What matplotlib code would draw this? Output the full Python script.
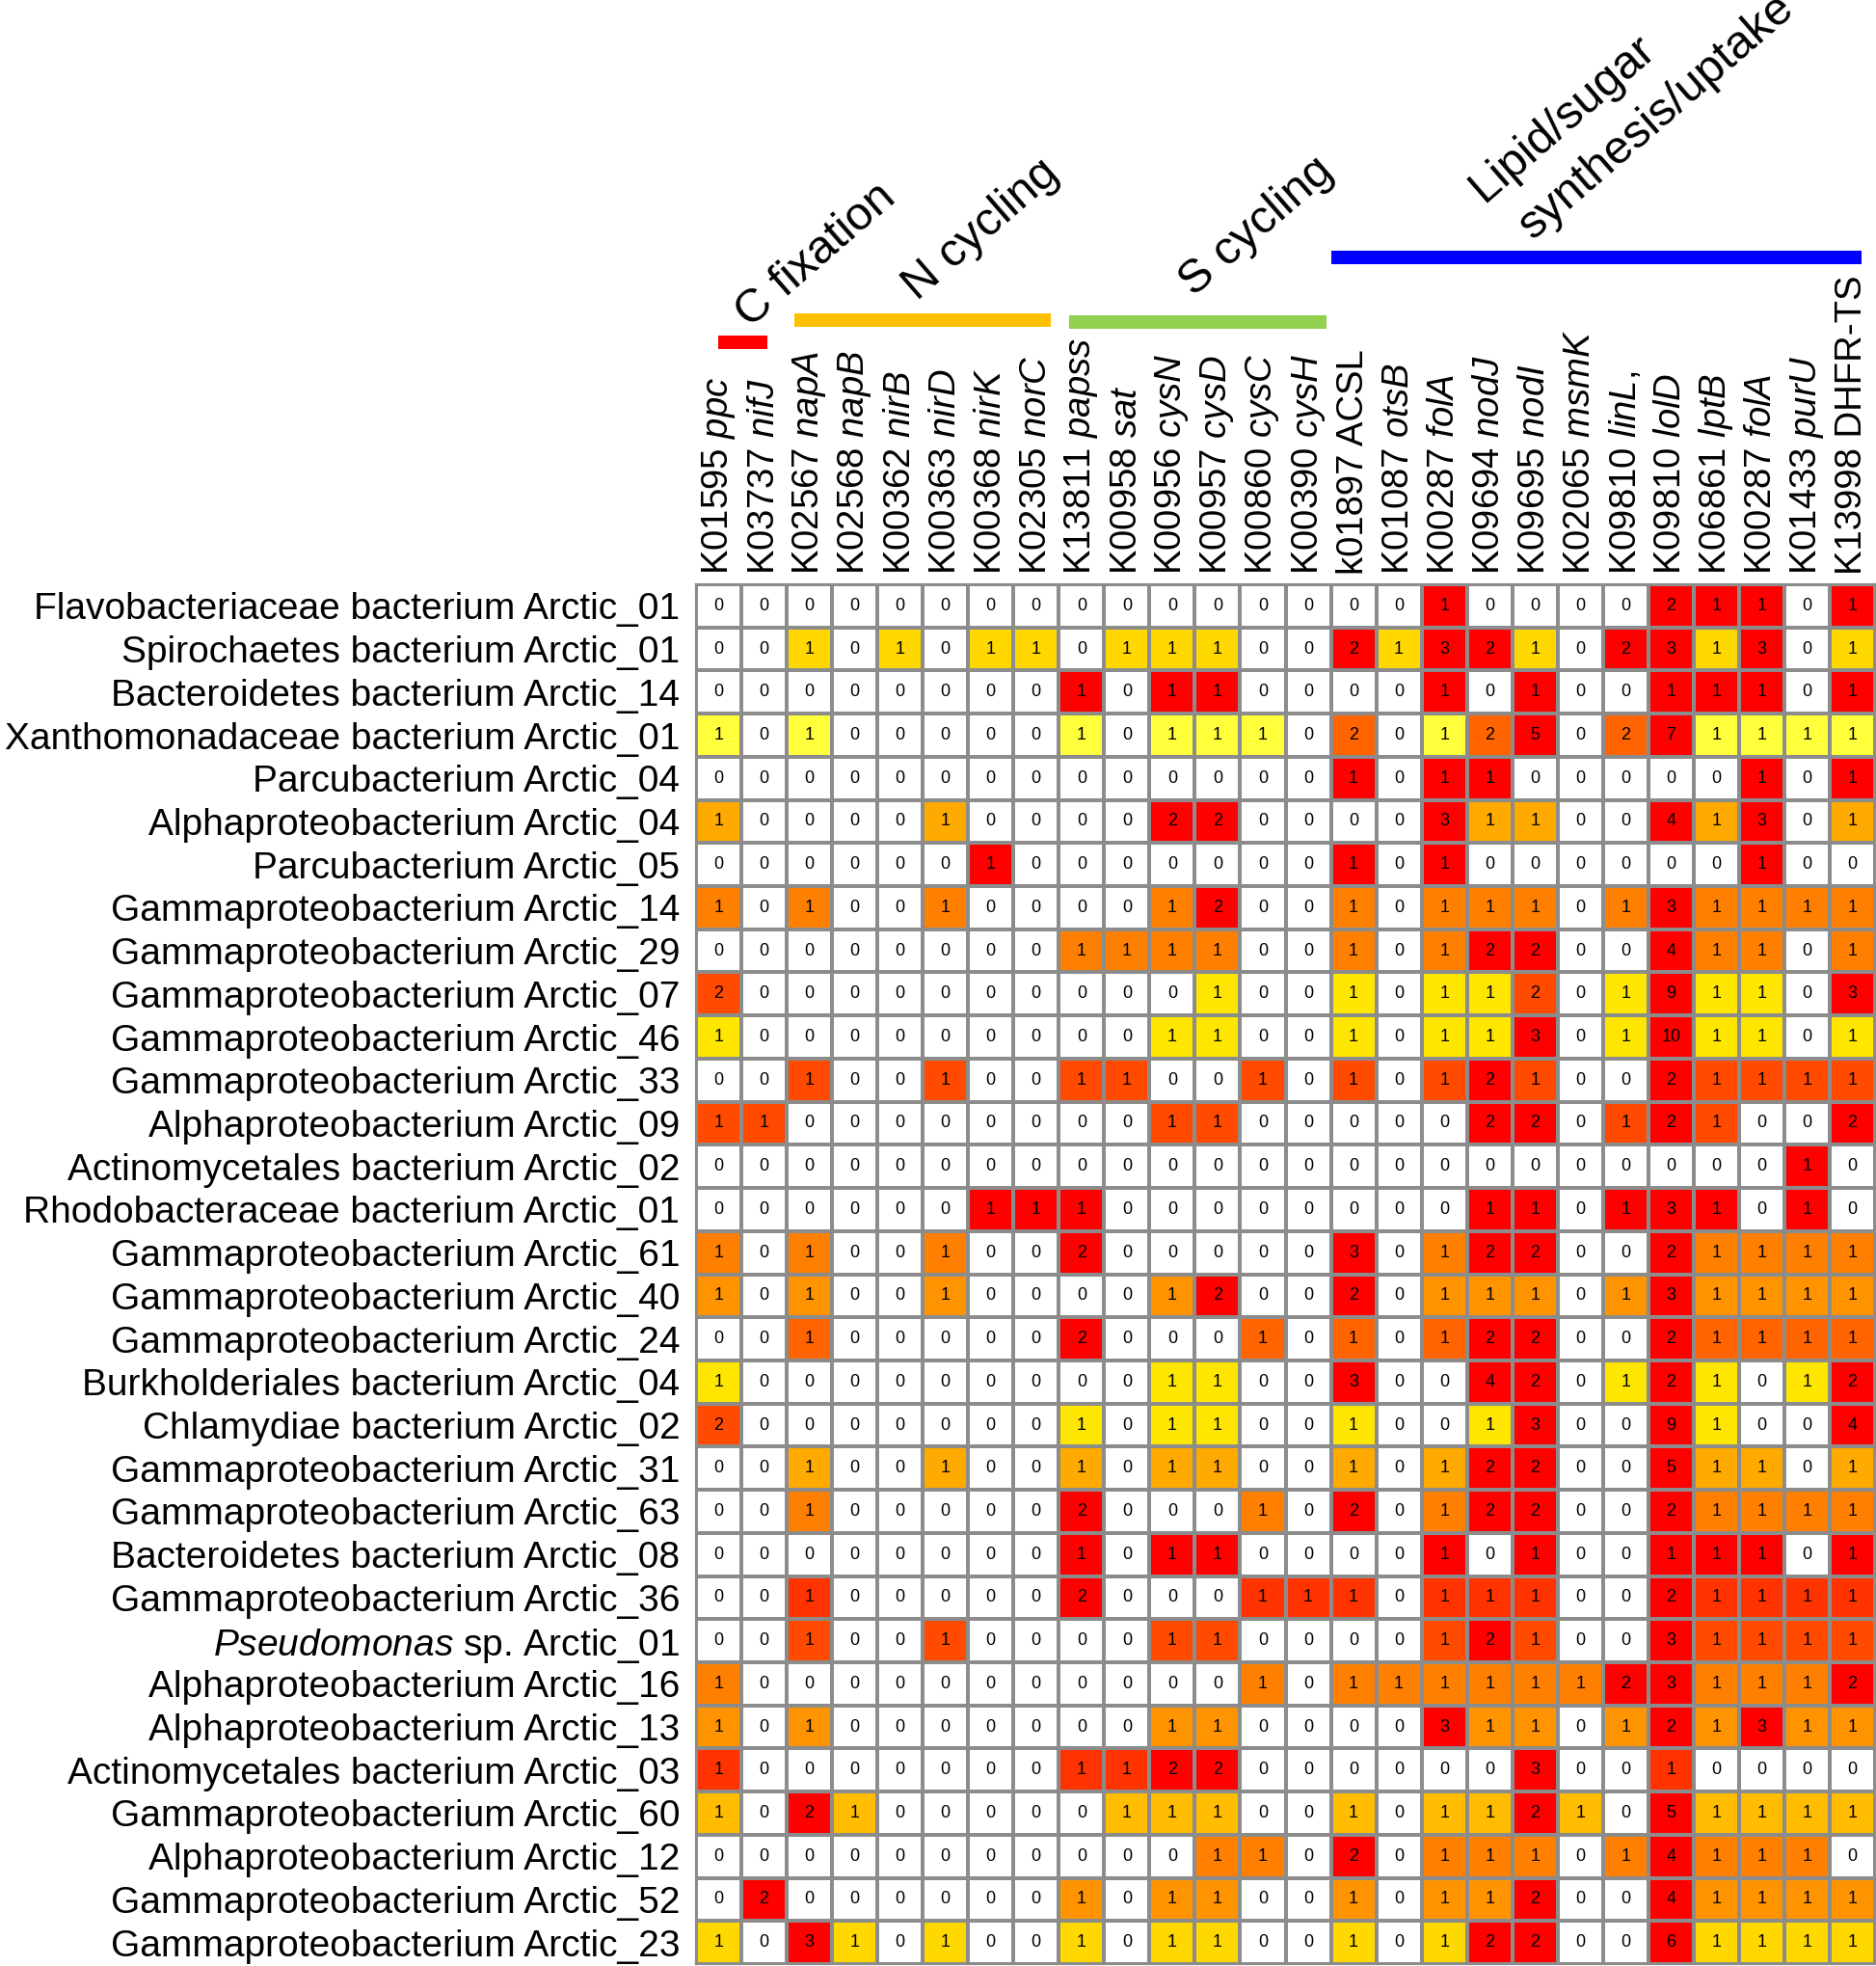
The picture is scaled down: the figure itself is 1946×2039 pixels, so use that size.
import numpy as np
import matplotlib
matplotlib.use('Agg')
import matplotlib.pyplot as plt
from matplotlib.colors import ListedColormap
from matplotlib.patches import Rectangle

plt.rcParams['font.family'] = ['Liberation Sans', 'DejaVu Sans']
plt.rcParams['mathtext.fontset'] = 'custom'
plt.rcParams['mathtext.rm'] = 'Liberation Sans'
plt.rcParams['mathtext.it'] = 'Liberation Sans:italic'

# ---------------- data ----------------
gene_ids = ["K01595", "K03737", "K02567", "K02568", "K00362", "K00363", "K00368", "K02305",
            "K13811", "K00958", "K00956", "K00957", "K00860", "K00390",
            "k01897", "K01087", "K00287", "K09694", "K09695", "K02065", "K09810", "K09810",
            "K06861", "K00287", "K01433", "K13998"]
gene_symbols = ["ppc", "nifJ", "napA", "napB", "nirB", "nirD", "nirK", "norC",
                "papss", "sat", "cysN", "cysD", "cysC", "cysH",
                "ACSL", "otsB", "folA", "nodJ", "nodI", "msmK", "linL,", "lolD",
                "lptB", "folA", "purU", "DHFR-TS"]
symbol_italic = [True] * 14 + [False] + [True] * 10 + [False]

genomes = [
    "Flavobacteriaceae bacterium Arctic_01",
    "Spirochaetes bacterium Arctic_01",
    "Bacteroidetes bacterium Arctic_14",
    "Xanthomonadaceae bacterium Arctic_01",
    "Parcubacterium Arctic_04",
    "Alphaproteobacterium Arctic_04",
    "Parcubacterium Arctic_05",
    "Gammaproteobacterium Arctic_14",
    "Gammaproteobacterium Arctic_29",
    "Gammaproteobacterium Arctic_07",
    "Gammaproteobacterium Arctic_46",
    "Gammaproteobacterium Arctic_33",
    "Alphaproteobacterium Arctic_09",
    "Actinomycetales bacterium Arctic_02",
    "Rhodobacteraceae bacterium Arctic_01",
    "Gammaproteobacterium Arctic_61",
    "Gammaproteobacterium Arctic_40",
    "Gammaproteobacterium Arctic_24",
    "Burkholderiales bacterium Arctic_04",
    "Chlamydiae bacterium Arctic_02",
    "Gammaproteobacterium Arctic_31",
    "Gammaproteobacterium Arctic_63",
    "Bacteroidetes bacterium Arctic_08",
    "Gammaproteobacterium Arctic_36",
    "$\\mathit{Pseudomonas}$ sp. Arctic_01",
    "Alphaproteobacterium Arctic_16",
    "Alphaproteobacterium Arctic_13",
    "Actinomycetales bacterium Arctic_03",
    "Gammaproteobacterium Arctic_60",
    "Alphaproteobacterium Arctic_12",
    "Gammaproteobacterium Arctic_52",
    "Gammaproteobacterium Arctic_23",
]

counts = [
    [0,0,0,0,0,0,0,0,0,0,0,0,0, 0,0,0,1,0,0,0,0,2,1,1,0,1],
    [0,0,1,0,1,0,1,1,0,1,1,1,0, 0,2,1,3,2,1,0,2,3,1,3,0,1],
    [0,0,0,0,0,0,0,0,1,0,1,1,0, 0,0,0,1,0,1,0,0,1,1,1,0,1],
    [1,0,1,0,0,0,0,0,1,0,1,1,1, 0,2,0,1,2,5,0,2,7,1,1,1,1],
    [0,0,0,0,0,0,0,0,0,0,0,0,0, 0,1,0,1,1,0,0,0,0,0,1,0,1],
    [1,0,0,0,0,1,0,0,0,0,2,2,0, 0,0,0,3,1,1,0,0,4,1,3,0,1],
    [0,0,0,0,0,0,1,0,0,0,0,0,0, 0,1,0,1,0,0,0,0,0,0,1,0,0],
    [1,0,1,0,0,1,0,0,0,0,1,2,0, 0,1,0,1,1,1,0,1,3,1,1,1,1],
    [0,0,0,0,0,0,0,0,1,1,1,1,0, 0,1,0,1,2,2,0,0,4,1,1,0,1],
    [2,0,0,0,0,0,0,0,0,0,0,1,0, 0,1,0,1,1,2,0,1,9,1,1,0,3],
    [1,0,0,0,0,0,0,0,0,0,1,1,0, 0,1,0,1,1,3,0,1,10,1,1,0,1],
    [0,0,1,0,0,1,0,0,1,1,0,0,1, 0,1,0,1,2,1,0,0,2,1,1,1,1],
    [1,1,0,0,0,0,0,0,0,0,1,1,0, 0,0,0,0,2,2,0,1,2,1,0,0,2],
    [0,0,0,0,0,0,0,0,0,0,0,0,0, 0,0,0,0,0,0,0,0,0,0,0,1,0],
    [0,0,0,0,0,0,1,1,1,0,0,0,0, 0,0,0,0,1,1,0,1,3,1,0,1,0],
    [1,0,1,0,0,1,0,0,2,0,0,0,0, 0,3,0,1,2,2,0,0,2,1,1,1,1],
    [1,0,1,0,0,1,0,0,0,0,1,2,0, 0,2,0,1,1,1,0,1,3,1,1,1,1],
    [0,0,1,0,0,0,0,0,2,0,0,0,1, 0,1,0,1,2,2,0,0,2,1,1,1,1],
    [1,0,0,0,0,0,0,0,0,0,1,1,0, 0,3,0,0,4,2,0,1,2,1,0,1,2],
    [2,0,0,0,0,0,0,0,1,0,1,1,0, 0,1,0,0,1,3,0,0,9,1,0,0,4],
    [0,0,1,0,0,1,0,0,1,0,1,1,0, 0,1,0,1,2,2,0,0,5,1,1,0,1],
    [0,0,1,0,0,0,0,0,2,0,0,0,1, 0,2,0,1,2,2,0,0,2,1,1,1,1],
    [0,0,0,0,0,0,0,0,1,0,1,1,0, 0,0,0,1,0,1,0,0,1,1,1,0,1],
    [0,0,1,0,0,0,0,0,2,0,0,0,1, 1,1,0,1,1,1,0,0,2,1,1,1,1],
    [0,0,1,0,0,1,0,0,0,0,1,1,0, 0,0,0,1,2,1,0,0,3,1,1,1,1],
    [1,0,0,0,0,0,0,0,0,0,0,0,1, 0,1,1,1,1,1,1,2,3,1,1,1,2],
    [1,0,1,0,0,0,0,0,0,0,1,1,0, 0,0,0,3,1,1,0,1,2,1,3,1,1],
    [1,0,0,0,0,0,0,0,1,1,2,2,0, 0,0,0,0,0,3,0,0,1,0,0,0,0],
    [1,0,2,1,0,0,0,0,0,1,1,1,0, 0,1,0,1,1,2,1,0,5,1,1,1,1],
    [0,0,0,0,0,0,0,0,0,0,0,1,1, 0,2,0,1,1,1,0,1,4,1,1,1,0],
    [0,2,0,0,0,0,0,0,1,0,1,1,0, 0,1,0,1,1,2,0,0,4,1,1,1,1],
    [1,0,3,1,0,1,0,0,1,0,1,1,0, 0,1,0,1,2,2,0,0,6,1,1,1,1],
]

# colour class of every cell (as shown in the figure), one string per genome
levels = [
    "................R....RRR.R",
    "..G.G.GG.GGG..RGRRG.RRGR.G",
    "........R.RR....R.R..RRR.R",
    "Y.Y.....Y.YYY.E.YER.ERYYYY",
    "..............R.RR.....R.R",
    "A....A....RR....RAA..RAR.A",
    "......R.......R.R......R..",
    "O.O..O....OR..O.OOO.OROOOO",
    "........OOOO..O.ORR..ROO.O",
    "D..........L..L.LLD.LRLL.R",
    "L.........LL..L.LLR.LRLL.L",
    "..D..D..DD..D.D.DRD..RDDDD",
    "DD........DD.....RR.DRD..R",
    "........................R.",
    "......RRR........RR.RRR.R.",
    "O.O..O..R.....R.ORR..ROOOO",
    "P.P..P....PR..R.PPP.PRPPPP",
    "..E.....R...E.E.ERR..REEEE",
    "L.........LL..R..RR.LRL.LR",
    "D.......L.LL..L..LR..RL..R",
    "..A..A..A.AA..A.ARR..RAA.A",
    "..O.....R...O.R.ORR..ROOOO",
    "........R.RR....R.R..RRR.R",
    "..C.....R...CCC.CCC..RCCCC",
    "..D..D....DD....DRD..RDDDD",
    "O...........O.OOOOOORROOOR",
    "P.P.......PP....RPP.PRPRPP",
    "C.......CCRR......R..C....",
    "B.RB.....BBB..B.BBRB.RBBBB",
    "...........OO.R.OOO.OROOO.",
    ".R......P.PP..P.PPR..RPPPP",
    "G.RG.G..G.GG..G.GRR..RGGGG",
]

groups = ["C fixation", "N cycling", "S cycling", "Lipid/sugar", "synthesis/uptake"]

# ---------------- style ----------------
level_order = ".YLGBAPOEDCR"
level_colors = ["#FFFFFF", "#FFFF3C", "#FFE600", "#FFD800", "#FFBC00", "#FFAA00",
                "#FF9400", "#FF8000", "#FF6400", "#FF4A00", "#FF3300", "#FF0000"]

nrow, ncol = len(genomes), len(gene_ids)
C = np.array([[level_order.index(ch) for ch in row] for row in levels])

W, H = 1946, 2039
fig = plt.figure(figsize=(W / 100, H / 100), dpi=100)
gx0, gx1, gy0, gy1 = 722, 1945, 606, 2037
ax = fig.add_axes([gx0 / W, (H - gy1) / H, (gx1 - gx0) / W, (gy1 - gy0) / H])

cmap = ListedColormap(level_colors)
ax.pcolormesh(np.arange(ncol + 1), np.arange(nrow + 1), C, cmap=cmap,
              vmin=-0.5, vmax=len(level_colors) - 0.5,
              edgecolors="#8C8C8C", linewidth=1.6)
ax.set_xlim(0, ncol)
ax.set_ylim(nrow, 0)

for i in range(nrow):
    for j in range(ncol):
        ax.text(j + 0.5, i + 0.5, str(counts[i][j]), ha="center", va="center",
                fontsize=13, color="black")

ax.set_yticks(np.arange(nrow) + 0.5)
ax.set_yticklabels(genomes, fontsize=28)
ax.tick_params(axis="y", length=0, pad=12)

col_labels = []
for gid, sym, it in zip(gene_ids, gene_symbols, symbol_italic):
    col_labels.append(f"{gid} $\\mathit{{{sym}}}$" if it else f"{gid} {sym}")
ax.xaxis.tick_top()
ax.set_xticks(np.arange(ncol) + 0.5)
ax.set_xticklabels(col_labels, rotation=90, fontsize=27.5)
ax.tick_params(axis="x", length=0, pad=7)

for s in ax.spines.values():
    s.set_color("#8C8C8C")
    s.set_linewidth(1.6)

# group bars (data x, data y above the grid)
bars = [(0.49, 1.57, -5.77, -5.46, "#FF0000"),
        (2.16, 7.83, -6.29, -5.97, "#FFC000"),
        (8.23, 13.9, -6.24, -5.93, "#92D050"),
        (14.0, 25.7, -7.74, -7.43, "#0000FF")]
for x0, x1, y0, y1, col in bars:
    ax.add_patch(Rectangle((x0, y0), x1 - x0, y1 - y0, facecolor=col,
                           edgecolor="none", clip_on=False))

label_pos = [(1.18, -5.93), (4.88, -6.57), (10.97, -6.66), (17.37, -8.85), (18.45, -7.98)]
for txt, (x, y) in zip(groups, label_pos):
    ax.text(x, y, txt, rotation=41, rotation_mode="anchor", ha="left", va="baseline",
            fontsize=35, clip_on=False)

fig.savefig("out.png", dpi=100)
